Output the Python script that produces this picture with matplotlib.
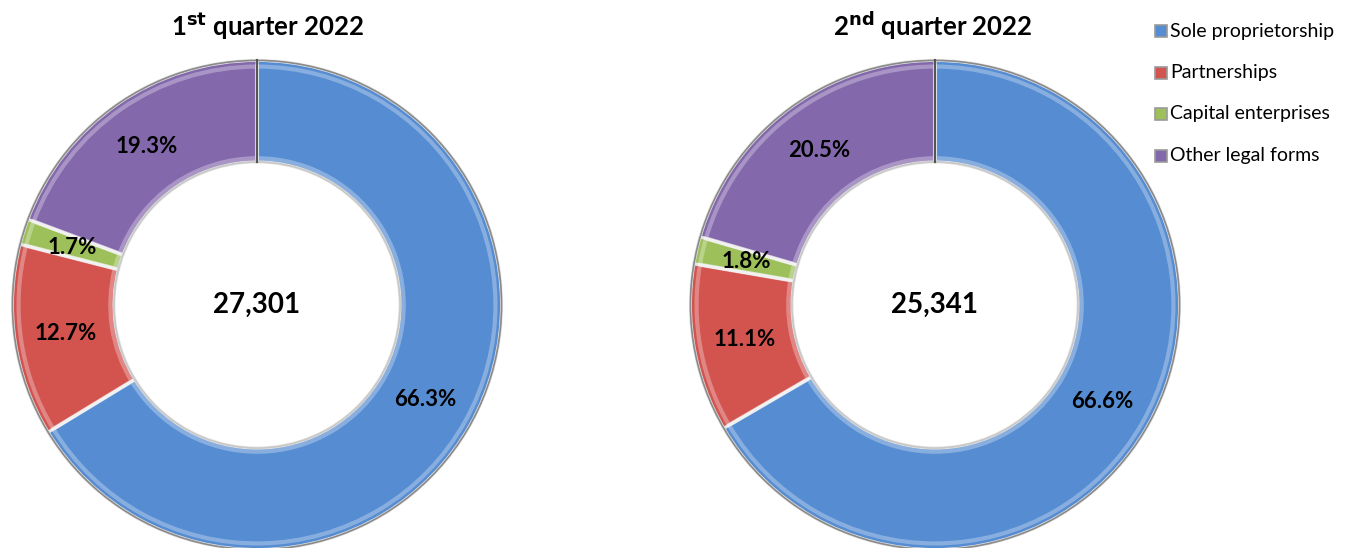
import numpy as np
import matplotlib.pyplot as plt
from matplotlib.patches import Rectangle, Circle

categories = ["Sole proprietorship", "Partnerships", "Capital enterprises", "Other legal forms"]
q1_shares = [66.3, 12.7, 1.7, 19.3]
q2_shares = [66.6, 11.1, 1.8, 20.5]
q1_total = "27,301"
q2_total = "25,341"
colors = ["#558CD2", "#D3534F", "#9DC05A", "#8468AC"]

plt.rcParams['font.family'] = ['Lato', 'DejaVu Sans']

W, H = 1357, 548
fig = plt.figure(figsize=(W / 100, H / 100), dpi=100)


def donut(cx, cy, r, shares, total, title, sup, tx):
    ax = fig.add_axes([(cx - r) / W, (H - cy - r) / H, 2 * r / W, 2 * r / H])
    ax.pie(shares, colors=colors, startangle=90, counterclock=False,
           radius=1, wedgeprops=dict(width=0.415, edgecolor="#e4e4e4", linewidth=2.2))
    # light inner rim to hint at the bevel
    ax.pie(shares, colors=["white"] * len(shares), startangle=90, counterclock=False, radius=0.975,
           wedgeprops=dict(width=0.375, edgecolor=(1, 1, 1, 0.3), linewidth=3, fill=False))
    ax.add_patch(Circle((0, 0), 1.0, fill=False, edgecolor="#8a8a8a", lw=1.2))
    ax.add_patch(Circle((0, 0), 0.585, fill=False, edgecolor="#c8c8c8", lw=1.2))
    start = 90
    for s in shares:
        mid = np.deg2rad(start - s * 3.6 / 2)
        start -= s * 3.6
        ax.text(0.79 * np.cos(mid), 0.79 * np.sin(mid), f"{s}%", ha="center", va="center",
                fontsize=16, fontweight="bold")
    ax.plot([0, 0], [0.585, 1.0], color="#555555", lw=1.5)
    ax.text(0, 0, total, ha="center", va="center", fontsize=20, fontweight="bold")
    ax.set_xlim(-1.01, 1.01)
    ax.set_ylim(-1.01, 1.01)
    ax.axis("off")
    fig.text(tx / W, 1 - 26 / H, r"%s$^{\mathbf{%s}}$ quarter 2022" % (title, sup),
             ha="center", va="center", fontsize=18.5, fontweight="bold")


donut(257, 305, 247, q1_shares, q1_total, "1", "st", 268)
donut(935, 305, 247, q2_shares, q2_total, "2", "nd", 933)

# legend
for i, (name, c) in enumerate(zip(categories, colors)):
    y = 31 + i * 41.5
    fig.patches.append(Rectangle((1155 / W, 1 - (y + 6) / H), 12 / W, 12 / H, transform=fig.transFigure,
                                 facecolor=c, edgecolor="#9a9a9a", linewidth=1.2))
    fig.text(1170 / W, 1 - y / H, name, ha="left", va="center", fontsize=14)

fig.savefig("out.png", dpi=100)
